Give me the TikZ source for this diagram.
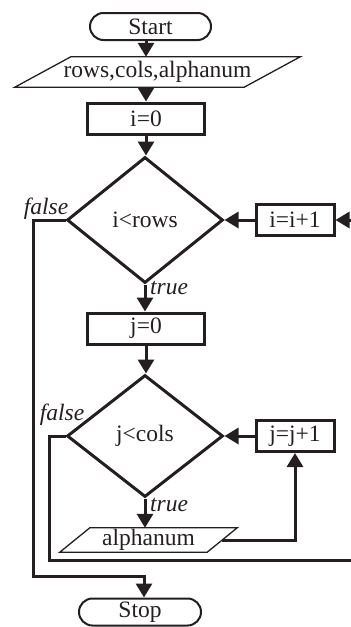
\documentclass[tikz,border=0pt]{standalone}
\usepackage{fontspec}
\setmainfont{Liberation Serif}
\definecolor{ink}{RGB}{35,31,32}
\newcommand{\chartfont}{\fontsize{23.5}{28}\selectfont}
\usetikzlibrary{arrows.meta,shapes.geometric,shapes.misc}
\tikzset{
  term/.style={draw=ink, rounded rectangle, line width=2pt,
              minimum width=121pt, minimum height=27pt, inner sep=0pt},
  stepbox/.style={draw=ink, line width=3pt, minimum height=31pt, inner sep=0pt},
  test/.style={draw=ink, diamond, line width=3pt, inner sep=0pt},
  iotext/.style={inner sep=0pt},
  ioline/.style={draw=ink, line width=1.3pt},
  flow/.style={-{Triangle[length=14pt,width=16pt]}, ink, line width=3pt},
  lbl/.style={font=\chartfont\itshape, text=ink, inner sep=0pt},
}
\newcommand{\ioshape}[2]{\draw[ioline] ([xshift=-#2]#1.south west) -- ([xshift=#2]#1.north west)
  -- ([xshift=#2]#1.north east) -- ([xshift=-#2]#1.south east) -- cycle;}

\begin{document}
\begin{tikzpicture}[x=1pt,y=-1pt,color=ink,font=\chartfont]
    \useasboundingbox (0,0) rectangle (351,627);
    % outer loop
    \node[term] (start) at (150.5,26.5) {Start};
    \node[iotext,minimum width=229pt,minimum height=30pt] (in) at (157.5,72) {rows,cols,alphanum};
    \ioshape{in}{28pt}
    \node[stepbox,minimum width=117pt] (i0) at (146,118.5) {i=0};
    \node[test,minimum width=156pt,minimum height=126pt] (ci) at (145,220) {i<rows};
    \node[stepbox,minimum width=78pt,anchor=west] (iinc) at ([xshift=30pt]ci.east) {i=i+1};
    % inner loop
    \node[stepbox,minimum width=117pt] (j0) at (146,328.5) {j=0};
    \node[test,minimum width=156pt,minimum height=122pt] (cj) at (145,436) {j<cols};
    \node[stepbox,minimum width=78pt,anchor=west] (jinc) at ([xshift=30pt]cj.east) {j=j+1};
    \node[iotext,minimum width=147pt,minimum height=24pt] (alp) at (148.5,540) {alphanum};
    \ioshape{alp}{15pt}
    \node[term,minimum width=122pt] (stop) at (140,612) {Stop};
    \coordinate (jback) at (358,560);
    \coordinate (iend) at (144,576);
    % connectors
    \draw[flow] (start.south -| i0.north) -- (i0.north |- in.north);
    \draw[flow] (in.south -| i0.north) -- (i0.north);
    \draw[flow] (i0.south) -- (i0.south |- ci.north);
    \draw[flow] (ci.south) -- (ci.south |- j0.north);
    \draw[flow] (j0.south) -- (j0.south |- cj.north);
    \draw[flow] (cj.south) -- (cj.south |- alp.north);
    \draw[flow] (alp.east) -| (jinc.south);
    \draw[flow] (jinc.west) -- (cj.east);
    \draw[flow] (iinc.west) -- (ci.east);
    \draw[flow] (cj.west) -- ++(-16,0) |- (jback) |- (iinc.east);
    \draw[flow] (ci.west) -- ++(-32,0) |- (iend) -- (iend |- stop.north);
    % labels
    \node[lbl,anchor=base east] (fi) at ([xshift=3pt,yshift=6pt]ci.west) {false};
    \node[lbl,anchor=base east] (fj) at ([xshift=19pt,yshift=16pt]cj.west) {false};
    \node[lbl,anchor=base west] (ti) at ([xshift=5pt,yshift=-10pt]ci.south) {true};
    \node[lbl,anchor=base west] (tj) at ([xshift=5pt,yshift=-13pt]cj.south) {true};
\end{tikzpicture}
\end{document}
